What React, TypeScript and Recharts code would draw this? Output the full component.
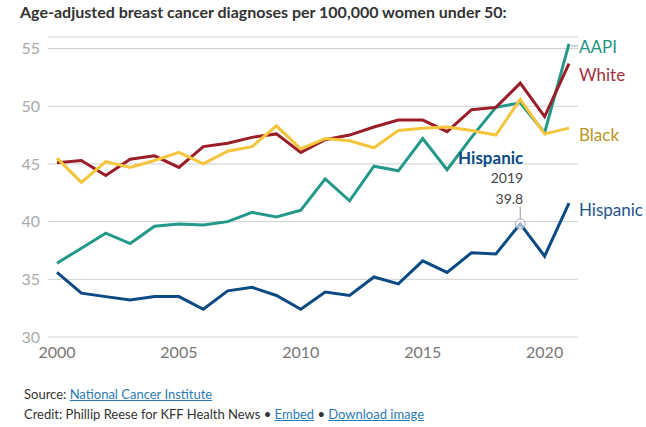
import React from 'react';
import { LineChart, Line, XAxis, YAxis, CartesianGrid, ReferenceDot } from 'recharts';

const YEARS = [2000, 2001, 2002, 2003, 2004, 2005, 2006, 2007, 2008, 2009, 2010, 2011, 2012, 2013, 2014, 2015, 2016, 2017, 2018, 2019, 2020, 2021];
const AAPI = [36.4, 37.7, 39.0, 38.1, 39.6, 39.8, 39.7, 40.0, 40.8, 40.4, 41.0, 43.7, 41.8, 44.8, 44.4, 47.2, 44.5, 47.3, 49.9, 50.3, 47.7, 55.4];
const WHITE = [45.1, 45.3, 44.0, 45.4, 45.7, 44.7, 46.5, 46.8, 47.3, 47.6, 46.0, 47.1, 47.5, 48.2, 48.8, 48.8, 47.8, 49.7, 49.9, 52.0, 49.1, 53.7];
const BLACK = [45.5, 43.4, 45.2, 44.7, 45.3, 46.0, 45.0, 46.1, 46.5, 48.3, 46.3, 47.2, 47.0, 46.4, 47.9, 48.1, 48.2, 47.9, 47.5, 50.6, 47.6, 48.1];
const HISPANIC = [35.6, 33.8, 33.5, 33.2, 33.5, 33.5, 32.4, 34.0, 34.3, 33.6, 32.4, 33.9, 33.6, 35.2, 34.6, 36.6, 35.6, 37.3, 37.2, 39.8, 37.0, 41.6];
const Y_TICKS = [30, 35, 40, 45, 50, 55];
const X_TICKS = [2000, 2005, 2010, 2015, 2020];

const HIGHLIGHT_YEAR = 2019;
const HIGHLIGHT_VALUE = HISPANIC[YEARS.indexOf(HIGHLIGHT_YEAR)];

const data = YEARS.map((year, i) => ({
  year,
  aapi: AAPI[i],
  white: WHITE[i],
  black: BLACK[i],
  hispanic: HISPANIC[i],
}));

const SERIES = [
  { key: 'aapi', name: 'AAPI', color: '#24998a', text: '#1f9480', dy: 3, leader: true },
  { key: 'white', name: 'White', color: '#9b1d27', text: '#a3303f', dy: 12, leader: false },
  { key: 'black', name: 'Black', color: '#f5c53c', text: '#b8951e', dy: 7, leader: false },
  { key: 'hispanic', name: 'Hispanic', color: '#0c4a83', text: '#24548c', dy: 7, leader: false },
];

const FONT = 'Lato, "Open Sans", sans-serif';
const LAST = YEARS.length - 1;

function endLabel(s: (typeof SERIES)[number]) {
  return (props: any) => {
    const { x, y, index } = props;
    if (index !== LAST) return null;
    return (
      <g key={s.key + '-end'}>
        {s.leader && <line x1={x + 2} y1={y + 2} x2={x + 9} y2={y + 2} stroke="#8aa" strokeWidth={1} />}
        <text x={x + 10} y={y + s.dy} dy="0.35em" fill={s.text} fontSize={17} fontFamily={FONT}>
          {s.name}
        </text>
      </g>
    );
  };
}

function Callout(props: any) {
  const { cx, cy } = props;
  if (cx == null || cy == null) return null;
  return (
    <g>
      <line x1={cx} y1={cy - 17} x2={cx} y2={cy - 5} stroke="#999" strokeWidth={1} />
      <circle cx={cx} cy={cy} r={5} fill="rgba(255,255,255,0.6)" stroke="#aab" strokeWidth={1} />
      <text x={cx + 3} y={cy - 66} dy="0.35em" textAnchor="end" fill="#0c4a83" fontSize={17} fontWeight={700} fontFamily={FONT}>
        Hispanic
      </text>
      <text x={cx + 3} y={cy - 46} dy="0.35em" textAnchor="end" fill="#444" fontSize={14} fontFamily={FONT}>
        {HIGHLIGHT_YEAR}
      </text>
      <text x={cx + 3} y={cy - 25} dy="0.35em" textAnchor="end" fill="#444" fontSize={14} fontFamily={FONT}>
        {HIGHLIGHT_VALUE}
      </text>
    </g>
  );
}

const linkStyle: React.CSSProperties = { color: '#2b7bb9', textDecoration: 'underline' };

export default function App() {
  return (
    <div style={{ position: 'absolute', left: 0, top: 0, width: 646, height: 427, background: '#fff', fontFamily: FONT }}>
      <div style={{ position: 'absolute', left: 20, top: 2, fontSize: 16, fontWeight: 700, color: '#333', whiteSpace: 'nowrap' }}>
        Age-adjusted breast cancer diagnoses per 100,000 women under 50:
      </div>
      <LineChart width={646} height={427} data={data} margin={{ top: 37, right: 68, left: 18, bottom: 65 }}>
        <CartesianGrid horizontal vertical={false} stroke="#cfcfcf" />
        <XAxis
          dataKey="year"
          type="number"
          domain={[2000, 2021]}
          ticks={X_TICKS}
          padding={{ left: 9, right: 9 }}
          axisLine={false}
          tickLine={false}
          tickMargin={4}
          height={25}
          tick={{ fontSize: 16, fill: '#777', fontFamily: FONT }}
        />
        <YAxis
          type="number"
          domain={[30, 56]}
          allowDataOverflow
          ticks={Y_TICKS}
          width={30}
          axisLine={false}
          tickLine={false}
          tick={{ fontSize: 16, fill: '#aaa', fontFamily: FONT }}
        />
        {SERIES.map((s) => (
          <Line
            key={s.key}
            dataKey={s.key}
            stroke={s.color}
            strokeWidth={3}
            dot={false}
            activeDot={false}
            isAnimationActive={false}
            label={endLabel(s)}
          />
        ))}
        <ReferenceDot x={HIGHLIGHT_YEAR} y={HIGHLIGHT_VALUE} shape={Callout} />
      </LineChart>
      <div style={{ position: 'absolute', left: 24, top: 386, fontSize: 13, color: '#333', whiteSpace: 'nowrap' }}>
        Source: <span style={linkStyle}>National Cancer Institute</span>
      </div>
      <div style={{ position: 'absolute', left: 24, top: 406, fontSize: 13, color: '#333', whiteSpace: 'nowrap' }}>
        Credit: Phillip Reese for KFF Health News • <span style={linkStyle}>Embed</span>  • <span style={linkStyle}>Download image</span>
      </div>
    </div>
  );
}
